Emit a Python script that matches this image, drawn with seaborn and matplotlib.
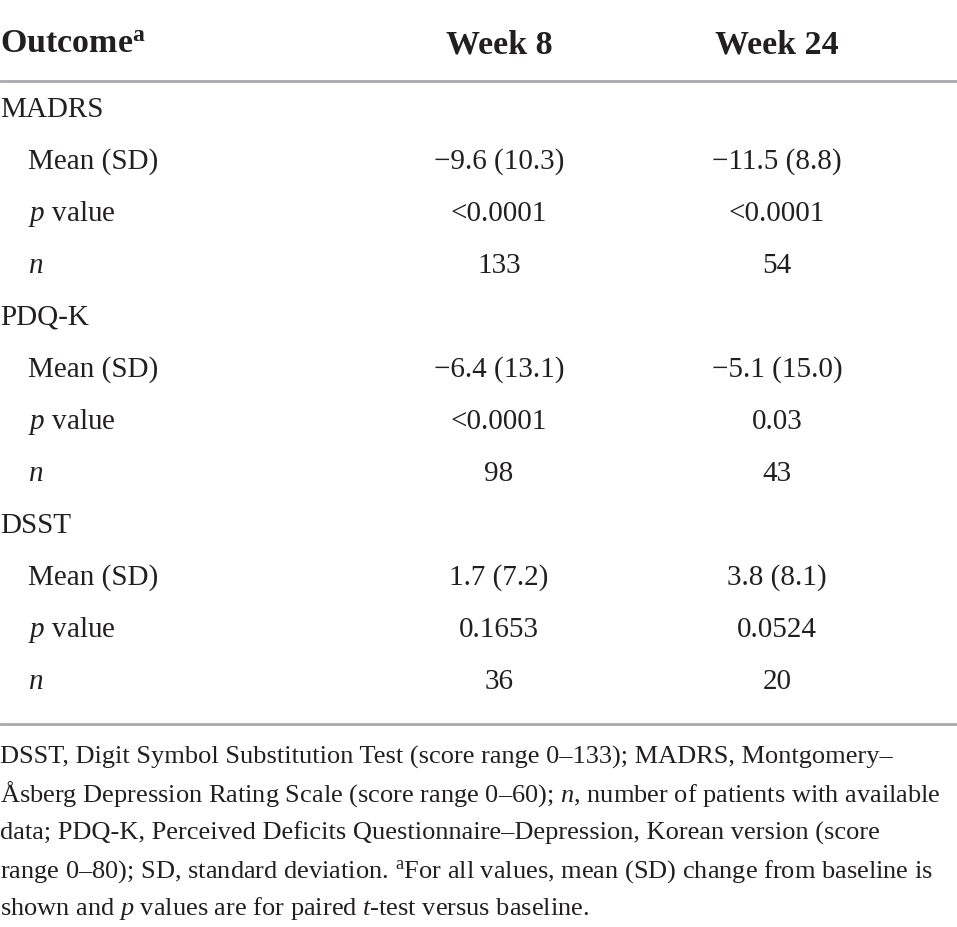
import matplotlib
matplotlib.use("Agg")
import matplotlib.pyplot as plt
import seaborn as sns

# table content
col_headers = ["Week 8", "Week 24"]
outcomes = ["MADRS", "PDQ-K", "DSST"]
row_labels = ["Mean (SD)", "$\\mathit{p}$ value", "$\\mathit{n}$"]
week8 = [["\u22129.6 (10.3)", "<0.0001", "133"],
         ["\u22126.4 (13.1)", "<0.0001", "98"],
         ["1.7 (7.2)", "0.1653", "36"]]
week24 = [["\u221211.5 (8.8)", "<0.0001", "54"],
          ["\u22125.1 (15.0)", "0.03", "43"],
          ["3.8 (8.1)", "0.0524", "20"]]
footnote = [
    "DSST, Digit Symbol Substitution Test (score range 0\u2013133); MADRS, Montgomery\u2013",
    "\u00c5sberg Depression Rating Scale (score range 0\u201360); $\\mathit{n}$, number of patients with available",
    "data; PDQ-K, Perceived Deficits Questionnaire\u2013Depression, Korean version (score",
    "range 0\u201380); SD, standard deviation. ${}^{\\mathrm{a}}$For all values, mean (SD) change from baseline is",
    "shown and $\\mathit{p}$ values are for paired $\\mathit{t}$-test versus baseline.",
]

sns.set_theme(style="white")
plt.rcParams["font.family"] = ["Liberation Serif", "DejaVu Serif"]
plt.rcParams["mathtext.fontset"] = "custom"
plt.rcParams["mathtext.rm"] = "Liberation Serif"
plt.rcParams["mathtext.it"] = "Liberation Serif:italic"
plt.rcParams["mathtext.bf"] = "Liberation Serif:bold"

txt = "#231f20"
rule = "#a7a9ac"

fig = plt.figure(figsize=(9.57, 9.28), dpi=100)
ax = fig.add_axes([0, 0, 1, 1])
ax.set_xlim(0, 957)
ax.set_ylim(928, 0)
ax.axis("off")

col_x = [499, 777]
body_fs = 21
head_fs = 24.5

# header
ax.text(0, 53, "Outcome$^{\\mathbf{a}}$", fontsize=head_fs, fontweight="bold",
        color=txt, va="baseline", ha="left")
for x, h in zip(col_x, col_headers):
    ax.text(x, 53, h, fontsize=head_fs, fontweight="bold", color=txt,
            va="baseline", ha="center")

ax.axhline(82, color=rule, lw=2)

# body rows
y = 117
step = 52
for i, name in enumerate(outcomes):
    ax.text(0, y, name, fontsize=body_fs, color=txt, va="baseline")
    y += step
    for j, lab in enumerate(row_labels):
        ax.text(28, y, lab, fontsize=body_fs, color=txt, va="baseline")
        ax.text(col_x[0], y, week8[i][j], fontsize=body_fs, color=txt,
                va="baseline", ha="center")
        ax.text(col_x[1], y, week24[i][j], fontsize=body_fs, color=txt,
                va="baseline", ha="center")
        y += step

ax.axhline(725, color=rule, lw=2)

# footnote
fy = 764
for line in footnote:
    ax.text(0, fy, line, fontsize=19, color=txt, va="baseline", ha="left")
    fy += 37.7

fig.savefig("out.png", dpi=100)
